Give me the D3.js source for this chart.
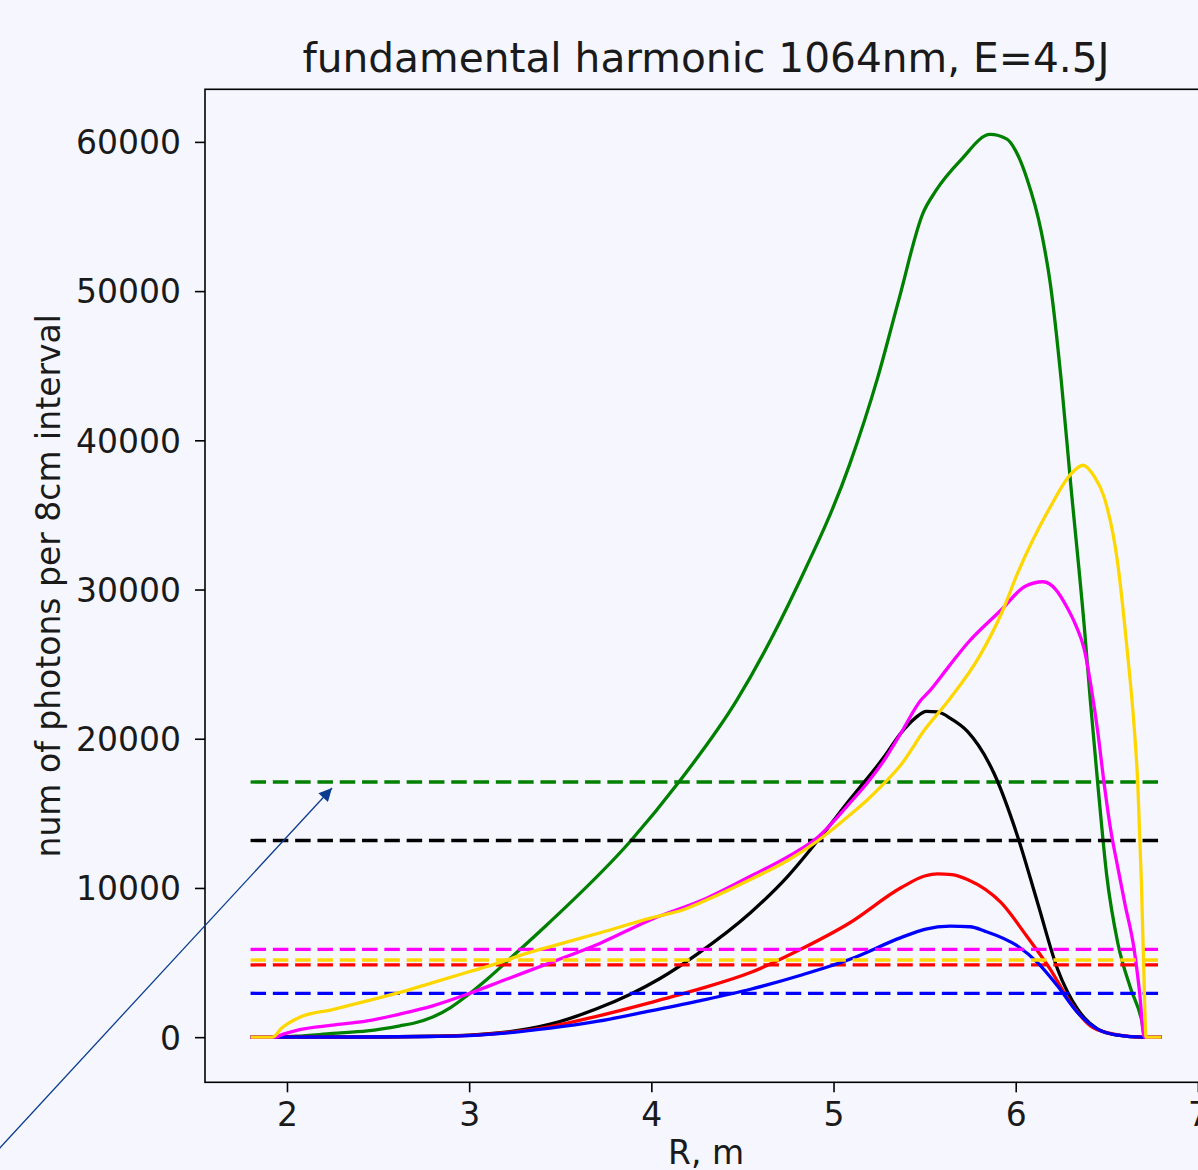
<!DOCTYPE html>
<html>
<head>
<meta charset="utf-8">
<script src="https://cdn.jsdelivr.net/npm/d3@7"></script>
<style>
  html, body { margin: 0; padding: 0; background: #f6f7fe; }
  svg { display: block; }
  text { font-family: "DejaVu Sans", sans-serif; fill: #1a1a1a; }
</style>
</head>
<body>
<svg id="chart" width="1198" height="1170"></svg>
<script>
// Photons per 8 cm interval along the major radius R (m), one profile per case.
// Each profile is a list of [R, photons] samples.
const greenProfile = [[1.8,0],[1.93,0],[2.05,60],[2.25,250],[2.44,420],[2.62,760],[2.7,950],[2.8,1350],[2.9,2000],[2.99,2800],[3.1,3900],[3.24,5440],[3.42,7450],[3.885,13130],[4.15,17080],[4.47,22600],[4.8,30200],[5.09,38440],[5.24,44100],[5.36,49500],[5.49,55200],[5.56,56700],[5.70,58800],[5.86,60500],[5.95,60200],[6.0,59400],[6.06,57600],[6.14,54000],[6.19,50500],[6.25,44000],[6.30,37320],[6.38,27000],[6.41,22500],[6.45,17035],[6.50,10800],[6.56,6330],[6.63,3300],[6.69,1200],[6.71,0],[6.8,0]];
const blackProfile = [[1.8,0],[1.93,0],[2.4,10],[2.8,60],[3.0,130],[3.2,330],[3.445,870],[3.7,1900],[3.885,2880],[4.05,3950],[4.25,5550],[4.544,8340],[4.75,10800],[4.91,13130],[5.09,15920],[5.28,18820],[5.37,20380],[5.45,21400],[5.51,21830],[5.57,21800],[5.65,21300],[5.735,20490],[5.88,17700],[6.01,13470],[6.12,9010],[6.23,4550],[6.34,1870],[6.45,535],[6.55,150],[6.7,0],[6.8,0]];
const redProfile = [[1.8,0],[1.93,0],[2.4,10],[2.8,50],[3.0,120],[3.445,700],[3.7,1400],[3.995,2320],[4.27,3250],[4.544,4330],[4.82,5890],[5.09,7670],[5.37,10010],[5.5,10800],[5.57,10950],[5.65,10900],[5.735,10570],[5.92,9010],[6.06,6780],[6.19,4550],[6.30,2320],[6.41,760],[6.52,250],[6.6,80],[6.7,0],[6.8,0]];
const blueProfile = [[1.8,0],[1.93,0],[2.4,10],[2.8,45],[3.0,100],[3.445,600],[3.7,1050],[3.995,1760],[4.27,2450],[4.544,3210],[4.82,4150],[5.09,5220],[5.37,6670],[5.5,7230],[5.64,7440],[5.75,7400],[5.83,7110],[6.01,6110],[6.12,5000],[6.23,3430],[6.34,1650],[6.45,535],[6.55,150],[6.7,0],[6.8,0]];
const magentaProfile = [[1.8,0],[1.93,0],[1.98,200],[2.07,500],[2.25,800],[2.44,1090],[2.62,1550],[2.8,2100],[2.99,2880],[3.2,3860],[3.445,4990],[3.72,6300],[4.0,7890],[4.3,9300],[4.544,10790],[4.75,12100],[4.91,13360],[5.09,15700],[5.185,17035],[5.28,18600],[5.37,20380],[5.48,22600],[5.52,23100],[5.63,24800],[5.735,26400],[5.92,28630],[6.05,30200],[6.15,30520],[6.22,30000],[6.28,28850],[6.33,27600],[6.376,26000],[6.42,23000],[6.45,20500],[6.485,17035],[6.52,14000],[6.559,11460],[6.6,8900],[6.65,5890],[6.68,3000],[6.705,0],[6.8,0]];
const goldProfile = [[1.8,0],[1.92,0],[1.97,600],[2.07,1340],[2.25,1850],[2.44,2430],[2.62,3000],[2.8,3660],[2.99,4350],[3.17,5000],[3.26,5400],[3.5,6250],[3.72,7000],[4.0,8000],[4.18,8560],[4.35,9450],[4.544,10570],[4.75,11850],[4.91,13130],[5.09,14900],[5.185,15900],[5.28,17035],[5.37,18260],[5.5,20600],[5.64,22700],[5.8,25500],[5.93,28630],[6.01,31080],[6.19,35540],[6.3,37700],[6.37,38330],[6.43,37600],[6.485,36210],[6.56,31750],[6.61,26170],[6.65,20820],[6.67,17035],[6.69,10350],[6.705,3660],[6.715,0],[6.8,0]];

// Draw order and colours of the profiles, with the constant (dashed) level of each
const profiles = [greenProfile, blackProfile, redProfile, blueProfile, magentaProfile, goldProfile];
const profileColors = ["#008000", "#000000", "#ff0000", "#0000ff", "#ff00ff", "#ffd700"];
const levelValues = [17100, 13180, 4840, 2940, 5880, 5170];
const levelSpan = [1.8, 6.8];

const xTickValues = [2, 3, 4, 5, 6, 7];
const yTickValues = [0, 10000, 20000, 30000, 40000, 50000, 60000];

const titleText = "fundamental harmonic 1064nm, E=4.5J";
const xLabelText = "R, m";
const yLabelText = "num of photons per 8cm interval";

// ---- layout ----
const frame = { left: 205, right: 1207, top: 89.3, bottom: 1082.3 };
const labelSize = "33px";
const svg = d3.select("#chart");

// 5% padding around the data extent on both axes
const allPts = profiles.flat();
const xExt = d3.extent(allPts, d => d[0]);
const yMax = d3.max(allPts, d => d[1]);
const xPad = (xExt[1] - xExt[0]) * 0.05;
const yPad = yMax * 0.05;

const x = d3.scaleLinear().domain([xExt[0] - xPad, xExt[1] + xPad]).range([frame.left, frame.right]);
const y = d3.scaleLinear().domain([-yPad, yMax + yPad]).range([frame.bottom, frame.top]);

const clipId = "plot-clip";
svg.append("defs").append("clipPath").attr("id", clipId)
  .append("rect")
  .attr("x", frame.left).attr("y", frame.top)
  .attr("width", frame.right - frame.left).attr("height", frame.bottom - frame.top);

const plot = svg.append("g").attr("clip-path", `url(#${clipId})`);

const line = d3.line()
  .x(d => x(d[0]))
  .y(d => y(d[1]))
  .curve(d3.curveMonotoneX);

profiles.forEach((pts, i) => {
  plot.append("path")
    .datum(pts)
    .attr("d", line)
    .attr("fill", "none")
    .attr("stroke", profileColors[i])
    .attr("stroke-width", 3.3)
    .attr("stroke-linejoin", "round");

  plot.append("line")
    .attr("x1", x(levelSpan[0])).attr("x2", x(levelSpan[1]))
    .attr("y1", y(levelValues[i])).attr("y2", y(levelValues[i]))
    .attr("stroke", profileColors[i])
    .attr("stroke-width", 3.3)
    .attr("stroke-dasharray", "15.5,6.8");
});

// ---- axes ----
const yAxis = d3.axisLeft(y)
  .tickValues(yTickValues)
  .tickFormat(d3.format("d"))
  .tickSize(10)
  .tickSizeOuter(0)
  .tickPadding(14);

const xAxis = d3.axisBottom(x)
  .tickValues(xTickValues)
  .tickFormat(d3.format("d"))
  .tickSize(10)
  .tickSizeOuter(0)
  .tickPadding(10);

const gy = svg.append("g").attr("transform", `translate(${frame.left},0)`).call(yAxis);
const gx = svg.append("g").attr("transform", `translate(0,${frame.bottom})`).call(xAxis);

[gx, gy].forEach(g => {
  g.select(".domain").remove();
  g.selectAll(".tick line").attr("stroke", "#000").attr("stroke-width", 1.6);
  g.selectAll(".tick text")
    .attr("fill", "#1a1a1a")
    .style("font-family", "'DejaVu Sans', sans-serif")
    .style("font-size", labelSize);
});
gy.selectAll(".tick text").attr("dy", "0.36em");

// frame (spines)
svg.append("rect")
  .attr("x", frame.left).attr("y", frame.top)
  .attr("width", frame.right - frame.left).attr("height", frame.bottom - frame.top)
  .attr("fill", "none")
  .attr("stroke", "#000")
  .attr("stroke-width", 1.6);

// ---- titles ----
const midX = (frame.left + frame.right) / 2;
const midY = (frame.top + frame.bottom) / 2;

svg.append("text")
  .attr("x", midX).attr("y", 72)
  .attr("text-anchor", "middle")
  .style("font-size", "40.7px")
  .text(titleText);

svg.append("text")
  .attr("x", midX).attr("y", 1164)
  .attr("text-anchor", "middle")
  .style("font-size", labelSize)
  .text(xLabelText);

svg.append("text")
  .attr("transform", `translate(60,${midY}) rotate(-90)`)
  .attr("text-anchor", "middle")
  .style("font-size", labelSize)
  .text(yLabelText);

// ---- pointer arrow ----
const arrowColor = "#0a3d8f";
svg.select("defs").append("marker")
  .attr("id", "arrow-head")
  .attr("viewBox", "0 0 10 10")
  .attr("refX", 10).attr("refY", 5)
  .attr("markerUnits", "userSpaceOnUse")
  .attr("markerWidth", 17).attr("markerHeight", 13)
  .attr("orient", "auto")
  .append("path")
  .attr("d", "M0,0 L10,5 L0,10 Z")
  .attr("fill", arrowColor);

svg.append("line")
  .attr("x1", -4).attr("y1", 1152)
  .attr("x2", 332).attr("y2", 788)
  .attr("stroke", arrowColor)
  .attr("stroke-width", 1.3)
  .attr("marker-end", "url(#arrow-head)");
</script>
</body>
</html>
